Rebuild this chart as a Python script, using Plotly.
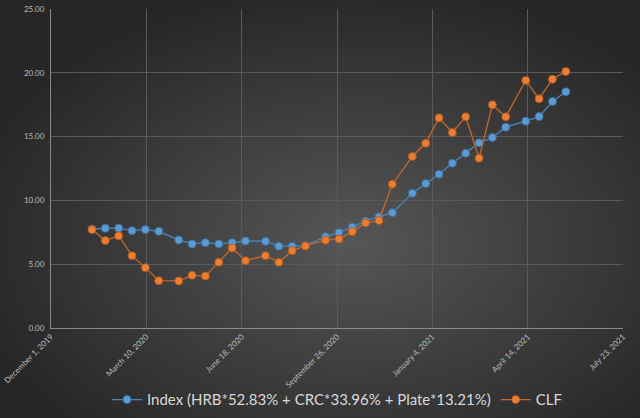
import base64
import datetime as dt
import plotly.graph_objects as go

# ---- data ----
start = dt.date(2019, 12, 1)
day_offsets = [43, 57, 71, 85, 99, 113, 134, 148, 162, 176, 190, 204, 225, 239, 253, 267,
               288, 302, 316, 330, 344, 358, 379, 393, 407, 421, 435, 449, 463, 477, 498, 512, 526, 540]
dates = [start + dt.timedelta(days=d) for d in day_offsets]

index_vals = [7.74, 7.82, 7.82, 7.63, 7.71, 7.58, 6.90, 6.59, 6.69, 6.59, 6.69, 6.82, 6.80, 6.41, 6.41, 6.45,
              7.16, 7.47, 7.90, 8.39, 8.71, 9.04, 10.56, 11.32, 12.05, 12.92, 13.70, 14.51, 14.93, 15.74,
              16.21, 16.57, 17.75, 18.51]
clf_vals = [7.71, 6.85, 7.22, 5.67, 4.73, 3.71, 3.69, 4.13, 4.08, 5.15, 6.27, 5.28, 5.67, 5.15, 6.06, 6.43,
            6.88, 6.98, 7.55, 8.24, 8.42, 11.27, 13.44, 14.48, 16.47, 15.32, 16.55, 13.31, 17.49, 16.55,
            19.40, 17.96, 19.50, 20.10]

tick_dates = ["2019-12-01", "2020-03-10", "2020-06-18", "2020-09-26", "2021-01-04", "2021-04-14", "2021-07-23"]
tick_labels = ["December 1, 2019", "March 10, 2020", "June 18, 2020", "September 26, 2020",
               "January 4, 2021", "April 14, 2021", "July 23, 2021"]
y_ticks = [0, 5, 10, 15, 20, 25]

series_names = ["Index (HRB*52.83% + CRC*33.96% + Plate*13.21%)", "CLF"]

# ---- layout geometry ----
W, H = 640, 418
ML, MR, MT, MB = 51, 17, 9, 90
pw, ph = W - ML - MR, H - MT - MB

svg = f'''<svg xmlns="http://www.w3.org/2000/svg" width="{W}" height="{H}" viewBox="0 0 {W} {H}" preserveAspectRatio="none">
<defs><radialGradient id="g" cx="55%" cy="58%" r="62%">
<stop offset="0" stop-color="#565656"/><stop offset="1" stop-color="#262626"/>
</radialGradient></defs>
<rect width="{W}" height="{H}" fill="url(#g)"/></svg>'''
uri = "data:image/svg+xml;base64," + base64.b64encode(svg.encode()).decode()

fig = go.Figure()
fig.add_trace(go.Scatter(
    x=dates, y=index_vals, name=series_names[0], mode="lines+markers",
    line=dict(color="#4a86bf", width=1.3),
    marker=dict(color="#5B9BD5", size=8, line=dict(color="#3c6a94", width=0.8)),
))
fig.add_trace(go.Scatter(
    x=dates, y=clf_vals, name=series_names[1], mode="lines+markers",
    line=dict(color="#c4682c", width=1.3),
    marker=dict(color="#ED7D31", size=8, line=dict(color="#a4551f", width=0.8)),
))

fig.update_layout(
    width=W, height=H,
    margin=dict(l=ML, r=MR, t=MT, b=MB, autoexpand=False),
    paper_bgcolor="#2b2b2b",
    plot_bgcolor="rgba(0,0,0,0)",
    font=dict(family="Lato, Open Sans, sans-serif", color="#c8c8c8"),
    images=[dict(source=uri, xref="paper", yref="paper",
                 x=-ML / pw, y=1 + MT / ph, sizex=W / pw, sizey=H / ph,
                 xanchor="left", yanchor="top", sizing="stretch", layer="below")],
    xaxis=dict(
        type="date", automargin=False,
        range=[tick_dates[0], tick_dates[-1]],
        tickvals=tick_dates, ticktext=tick_labels,
        tickangle=-45, tickfont=dict(size=8, color="#bdbdbd"),
        showgrid=True, gridcolor="#5a5a5a", gridwidth=1,
        showline=True, linecolor="#8a8a8a", linewidth=1,
        zeroline=False, ticks="",
    ),
    yaxis=dict(
        range=[0, 25], tickvals=y_ticks, tickformat=".2f", automargin=False,
        tickfont=dict(size=8, color="#bdbdbd"),
        showgrid=True, gridcolor="#5a5a5a", gridwidth=1,
        showline=True, linecolor="#8a8a8a", linewidth=1,
        zeroline=False, ticks="", ticklabelstandoff=4,
    ),
    legend=dict(
        orientation="h", x=0.5, xanchor="center", y=-0.225, yanchor="middle",
        font=dict(size=15, color="#d9d9d9"), bgcolor="rgba(0,0,0,0)",
        itemwidth=30, tracegroupgap=0,
    ),
)

fig.write_html("out.html",
               config={"displayModeBar": False},
               post_script="document.body.style.margin='0';document.body.style.overflow='hidden';")
